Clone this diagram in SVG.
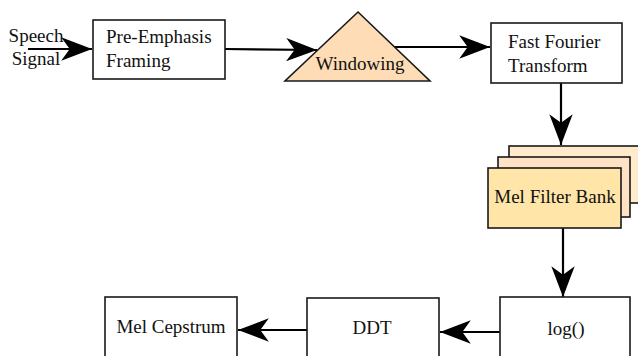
<svg xmlns="http://www.w3.org/2000/svg" width="638" height="356" viewBox="0 0 638 356">
<defs>
<style>
.box{fill:#ffffff;stroke:#1a1a1a;stroke-width:1.6}
.t{font-size:19px;fill:#111}
.c{stroke:#000;stroke-width:2.2;fill:none}
</style>
<marker id="ah" markerUnits="userSpaceOnUse" markerWidth="34" markerHeight="26" viewBox="-30 -12 32 24" refX="0" refY="0" orient="auto">
<path d="M0,0 L-29,-11 L-21,0 L-29,11 Z" fill="#000"/>
</marker>
</defs>
<rect width="638" height="356" fill="#ffffff"/>
<g id="connectors">
<line class="c" x1="28" y1="49" x2="92" y2="49" marker-end="url(#ah)"/>
<line class="c" x1="225" y1="49" x2="317" y2="50" marker-end="url(#ah)"/>
<line class="c" x1="393" y1="47" x2="490" y2="47" marker-end="url(#ah)"/>
<line class="c" x1="561" y1="83" x2="561" y2="145" marker-end="url(#ah)"/>
<line class="c" x1="563" y1="228" x2="563" y2="297" marker-end="url(#ah)"/>
<line class="c" x1="500" y1="332" x2="440" y2="332" marker-end="url(#ah)"/>
<line class="c" x1="307" y1="330" x2="238" y2="330" marker-end="url(#ah)"/>
</g>
<g font-family="Liberation Serif, Times New Roman, DejaVu Serif, serif">
<g id="speech-signal">
<text class="t" x="36" y="42" text-anchor="middle">Speech</text>
<text class="t" x="36" y="65" text-anchor="middle">Signal</text>
</g>
<g id="pre-emphasis">
<rect class="box" x="93" y="20" width="132" height="59"/>
<text class="t" x="106" y="43">Pre-Emphasis</text>
<text class="t" x="106" y="67">Framing</text>
</g>
<g id="windowing">
<polygon points="358,12 430,81 285,81" fill="#fddcb6" stroke="#1a1a1a" stroke-width="1.6"/>
<text class="t" x="360" y="70" text-anchor="middle">Windowing</text>
</g>
<g id="fft">
<rect class="box" x="491" y="23" width="131" height="60"/>
<text class="t" x="508" y="48">Fast Fourier</text>
<text class="t" x="508" y="72">Transform</text>
</g>
<g id="mel-filter-bank">
<rect x="509" y="146" width="140" height="57" fill="#ffebcb" stroke="#1a1a1a" stroke-width="1.6"/>
<rect x="498" y="157" width="132" height="60" fill="#ffe2c6" stroke="#1a1a1a" stroke-width="1.6"/>
<rect x="488" y="168" width="133" height="60" fill="#ffe6a8" stroke="#1a1a1a" stroke-width="1.6"/>
<text class="t" x="555" y="203" text-anchor="middle">Mel Filter Bank</text>
</g>
<g id="log">
<rect class="box" x="500" y="297" width="130" height="65"/>
<text class="t" x="566" y="335" text-anchor="middle">log()</text>
</g>
<g id="ddt">
<rect class="box" x="307" y="298" width="132" height="64"/>
<text class="t" x="372" y="334" text-anchor="middle">DDT</text>
</g>
<g id="mel-cepstrum">
<rect class="box" x="105" y="297" width="132" height="65"/>
<text class="t" x="171" y="333" text-anchor="middle">Mel Cepstrum</text>
</g>
</g>
</svg>
